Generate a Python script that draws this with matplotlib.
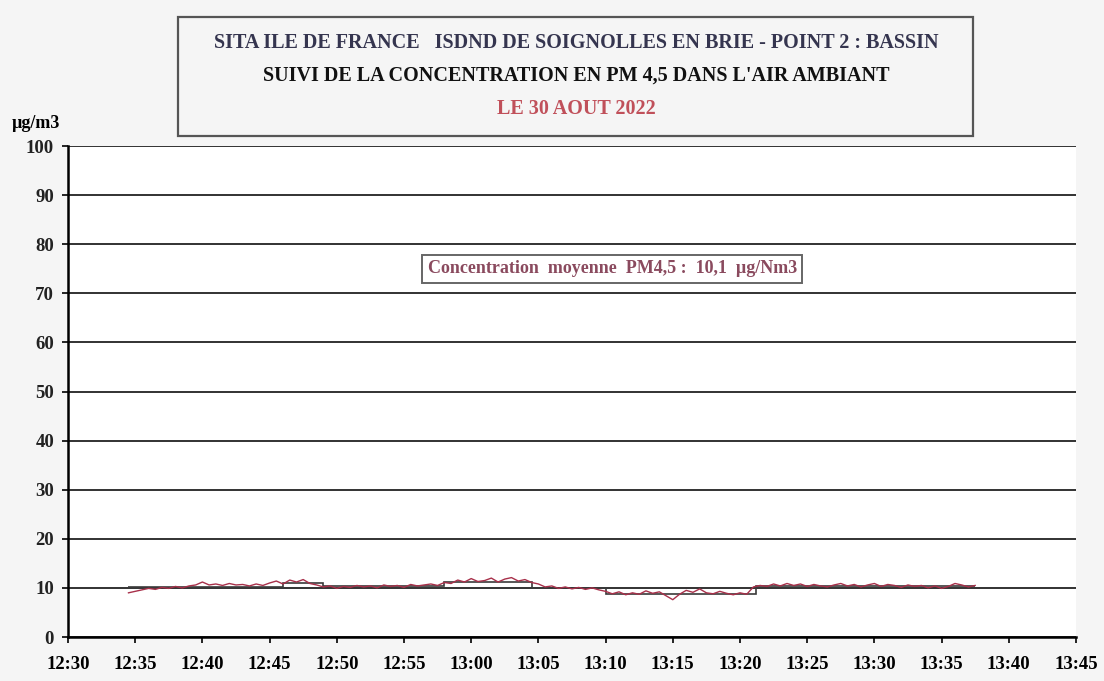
import numpy as np
import matplotlib.pyplot as plt
from matplotlib.patches import Rectangle
from matplotlib.ticker import FuncFormatter

# Concentration PM4,5 (µg/m3), un point toutes les 30 s à partir de 12:34:30
t_debut = 12 * 60 + 34.5
pm45 = [9.0, 9.3, 9.6, 9.9, 9.7, 10.1, 9.9, 10.3, 10.0, 10.4, 10.6, 11.2,
        10.6, 10.8, 10.5, 10.9, 10.6, 10.7, 10.4, 10.8, 10.5, 11.0, 11.4, 10.8,
        11.6, 11.2, 11.7, 10.9, 10.6, 10.2, 10.4, 9.9, 10.3, 10.1, 10.5, 10.2,
        10.4, 10.0, 10.6, 10.3, 10.5, 10.1, 10.7, 10.4, 10.6, 10.8, 10.5, 11.1,
        10.9, 11.6, 11.2, 11.9, 11.3, 11.5, 12.0, 11.2, 11.8, 12.1, 11.4, 11.7,
        11.1, 10.8, 10.2, 10.4, 9.9, 10.2, 9.8, 10.1, 9.7, 10.0, 9.6, 9.3,
        8.8, 9.2, 8.6, 9.0, 8.7, 9.4, 8.9, 9.2, 8.4, 7.6, 8.7, 9.5,
        9.1, 9.8, 9.0, 8.8, 9.3, 8.9, 8.6, 9.0, 8.7, 10.2, 10.5, 10.3,
        10.8, 10.4, 10.9, 10.5, 10.8, 10.3, 10.7, 10.4, 10.2, 10.6, 10.9, 10.4,
        10.7, 10.2, 10.6, 10.9, 10.3, 10.7, 10.5, 10.1, 10.6, 10.3, 10.5, 10.0,
        10.4, 9.9, 10.3, 10.9, 10.6, 10.2, 10.5]

# Moyennes par palier (bornes en minutes depuis minuit)
paliers_bornes = [754.5, 766, 769, 778, 784.5, 790, 801.2, 817.5]
paliers_moy = [10.2, 11.0, 10.3, 11.2, 10.0, 8.7, 10.3]

heures_ticks = np.arange(12 * 60 + 30, 13 * 60 + 46, 5)

t = t_debut + 0.5 * np.arange(len(pm45))

fig = plt.figure(figsize=(11.04, 6.81), dpi=100, facecolor='#f5f5f5')
ax = fig.add_axes([0.0616, 0.0646, 0.913, 0.721])
ax.set_facecolor('white')

ax.stairs(paliers_moy, paliers_bornes, color='#3a3a3a', lw=1.2, baseline=None)
ax.plot(t, pm45, color='#a8304a', lw=1.0)

ax.set_xlim(heures_ticks[0], heures_ticks[-1])
ax.set_ylim(0, 100)
ax.set_yticks(np.arange(0, 101, 10))
ax.set_xticks(heures_ticks)
ax.xaxis.set_major_formatter(FuncFormatter(lambda v, p: '%d:%02d' % (int(v) // 60, int(v) % 60)))
ax.yaxis.grid(True, color='#222222', lw=1.3)
ax.set_axisbelow(True)

for s in ['top', 'right']:
    ax.spines[s].set_visible(False)
ax.spines['left'].set_linewidth(1.8)
ax.spines['bottom'].set_linewidth(1.8)
ax.tick_params(axis='both', direction='out', length=4, width=1.2)
ax.tick_params(axis='x', pad=10)
ax.tick_params(axis='y', pad=6)
for lab in ax.get_xticklabels():
    lab.set_fontfamily('Liberation Serif')
    lab.set_fontweight('bold')
    lab.set_fontsize(13.5)
for lab in ax.get_yticklabels():
    lab.set_fontfamily('Liberation Serif')
    lab.set_fontweight('bold')
    lab.set_fontsize(13.5)
    lab.set_color('#222222')

fig.text(0.011, 0.812, 'µg/m3', fontfamily='Liberation Serif', fontweight='bold', fontsize=13)

# Cadre du titre
fig.patches.append(Rectangle((178 / 1104, 1 - 136 / 681), 795 / 1104, 119 / 681,
                             transform=fig.transFigure, fill=False, ec='#555555', lw=1.6))
fig.text(0.522, 1 - 43 / 681, "SITA ILE DE FRANCE   ISDND DE SOIGNOLLES EN BRIE - POINT 2 : BASSIN",
         ha='center', va='center', fontfamily='Liberation Serif', fontweight='bold',
         fontsize=14.5, color='#35354f')
fig.text(0.522, 1 - 76 / 681, "SUIVI DE LA CONCENTRATION EN PM 4,5 DANS L'AIR AMBIANT",
         ha='center', va='center', fontfamily='Liberation Serif', fontweight='bold',
         fontsize=14.5, color='#111111')
fig.text(0.522, 1 - 109 / 681, "LE 30 AOUT 2022",
         ha='center', va='center', fontfamily='Liberation Serif', fontweight='bold',
         fontsize=14.5, color='#c0505a')

# Encadré de la moyenne
ax.text(0.54, 0.75, 'Concentration  moyenne  PM4,5 :  10,1  µg/Nm3', transform=ax.transAxes,
        ha='center', va='center', fontfamily='Liberation Serif', fontweight='bold',
        fontsize=13, color='#8a4a5e',
        bbox=dict(boxstyle='square,pad=0.3', fc='white', ec='#666666', lw=1.4))

fig.savefig('out.png', dpi=100, facecolor=fig.get_facecolor())
